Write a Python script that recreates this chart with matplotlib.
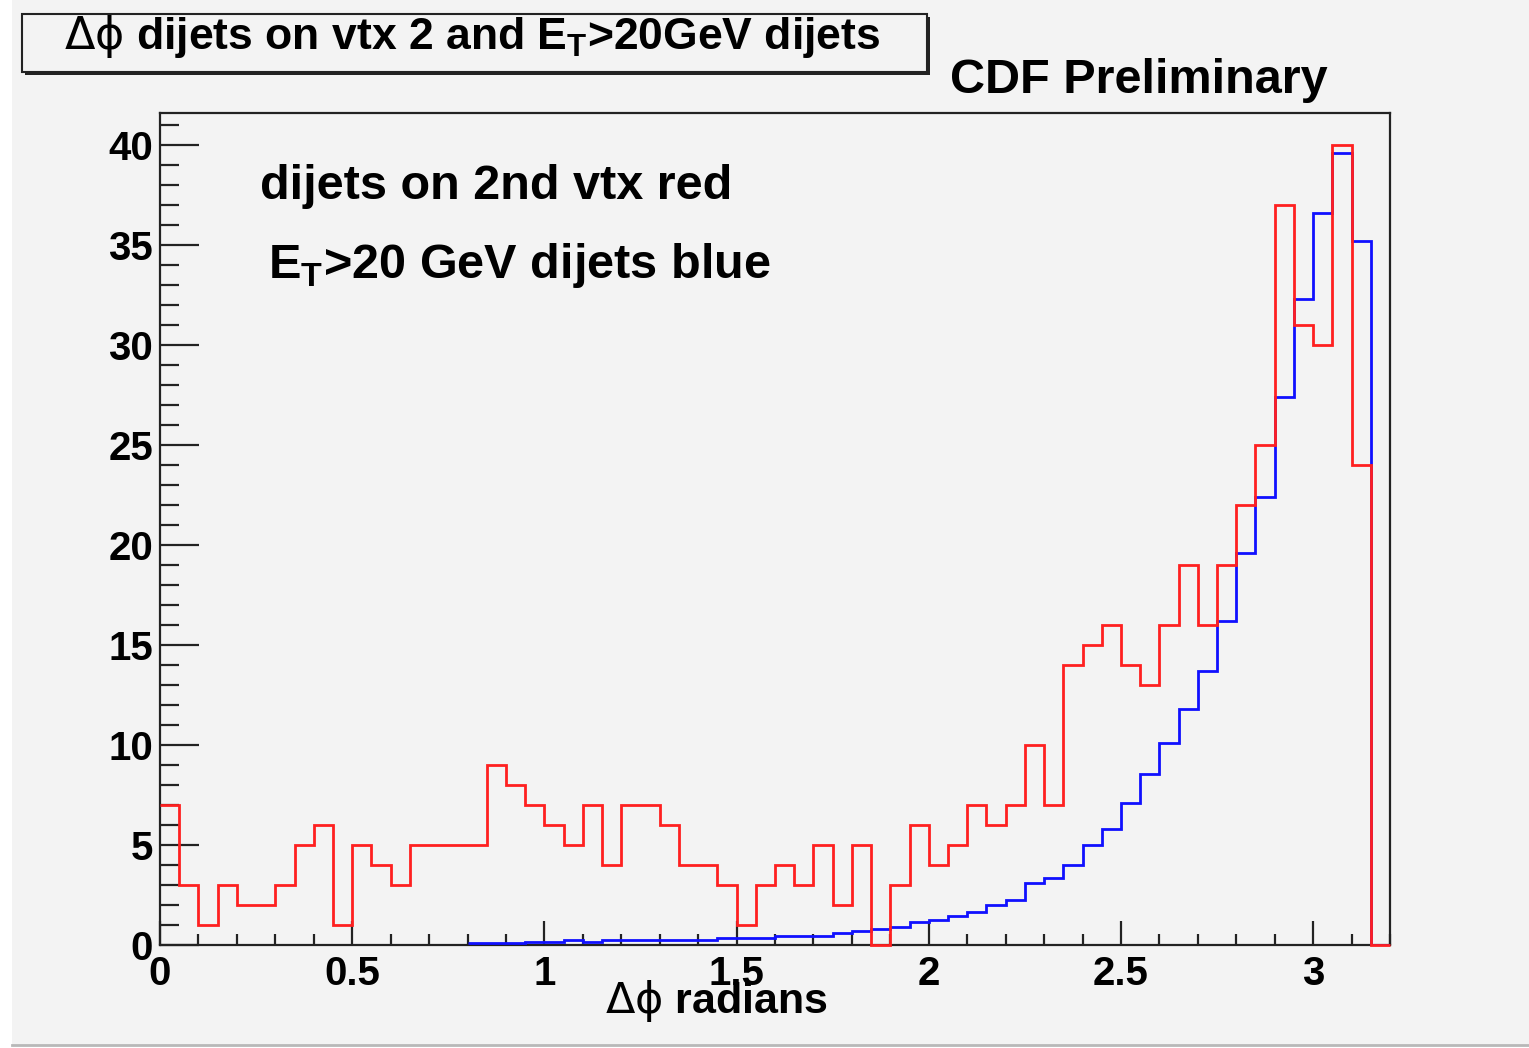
import matplotlib
matplotlib.use("Agg")
import matplotlib.pyplot as plt
from matplotlib.patches import Rectangle
from matplotlib.ticker import MultipleLocator
import numpy as np

# histogram binning: 64 bins of 0.05 rad from 0 to 3.2
bin_lo = 0.0
bin_hi = 3.2
bin_w = 0.05

# dijets on 2nd vertex (counts per bin)
red_counts = [7, 3, 1, 3, 2, 2, 3, 5, 6, 1, 5, 4, 3, 5, 5, 5,
              5, 9, 8, 7, 6, 5, 7, 4, 7, 7, 6, 4, 4, 3, 1, 3,
              4, 3, 5, 2, 5, 0, 3, 6, 4, 5, 7, 6, 7, 10, 7, 14,
              15, 16, 14, 13, 16, 19, 16, 19, 22, 25, 37, 31, 30, 40, 24, 0]

# ET>20 GeV dijets, scaled, starts at bin 16 (0.8 rad)
blue_first_bin = 16
blue_counts = [0.1, 0.1, 0.1, 0.13, 0.13, 0.25, 0.15, 0.25, 0.25, 0.25, 0.25, 0.25, 0.25,
               0.33, 0.33, 0.33, 0.47, 0.47, 0.47, 0.58, 0.7, 0.8, 0.9, 1.17, 1.25,
               1.45, 1.67, 2.0, 2.25, 3.1, 3.33, 4.0, 5.0, 5.78, 7.08, 8.55, 10.1,
               11.8, 13.7, 16.2, 19.6, 22.4, 27.4, 32.3, 36.6, 39.6, 35.2, 0]

plt.rcParams["mathtext.fontset"] = "custom"
plt.rcParams["mathtext.rm"] = "DejaVu Sans:normal"
plt.rcParams["mathtext.it"] = "DejaVu Sans:italic"
plt.rcParams["mathtext.bf"] = "Liberation Sans:bold"
plt.rcParams["font.family"] = ["Liberation Sans", "DejaVu Sans"]
plt.rcParams["font.weight"] = "bold"

W, H = 1529, 1048
bg = "#f3f3f3"
fig = plt.figure(figsize=(W / 100, H / 100), dpi=100, facecolor="white")

# canvas
fig.patches.append(Rectangle((12 / W, 3 / H), 1 - 12 / W, 1 - 3 / H,
                             transform=fig.transFigure, facecolor=bg,
                             edgecolor="none", zorder=-10))
fig.add_artist(plt.Line2D([12 / W, 1], [3 / H, 3 / H], color="#b8b8b8",
                          lw=2, transform=fig.transFigure))

def px(x, y):
    return x / W, 1 - y / H

ax = fig.add_axes([160 / W, 1 - 945 / H, 1230 / W, 832 / H])
ax.set_facecolor(bg)

edges = np.arange(len(red_counts) + 1) * bin_w + bin_lo
ax.stairs(blue_counts, edges[blue_first_bin:], baseline=None,
          color="#1010ff", lw=2.0, zorder=3)
ax.stairs(red_counts, edges, baseline=None, color="#ff2020", lw=2.0,
          zorder=4, clip_on=False)

ax.set_xlim(bin_lo, bin_hi)
ax.set_ylim(0, 41.6)

for s in ax.spines.values():
    s.set_linewidth(1.6)
    s.set_color("#222222")

ax.xaxis.set_major_locator(MultipleLocator(0.5))
ax.xaxis.set_minor_locator(MultipleLocator(0.1))
ax.yaxis.set_major_locator(MultipleLocator(5))
ax.yaxis.set_minor_locator(MultipleLocator(1))
ax.xaxis.set_major_formatter(plt.FuncFormatter(lambda v, p: f"{v:g}"))

ax.tick_params(axis="x", which="major", direction="in", length=17, width=1.6,
               labelsize=29, pad=7, top=False, color="#222222")
ax.tick_params(axis="x", which="minor", direction="in", length=8, width=1.6,
               top=False, color="#222222")
ax.tick_params(axis="y", which="major", direction="in", length=28, width=1.6,
               labelsize=29, pad=5, right=False, color="#222222")
ax.tick_params(axis="y", which="minor", direction="in", length=14, width=1.6,
               right=False, color="#222222")
for lab in ax.get_xticklabels() + ax.get_yticklabels():
    lab.set_fontweight("bold")

# title pave with shadow
fig.patches.append(Rectangle(px(25, 75), 905 / W, 58 / H, transform=fig.transFigure,
                             facecolor="#222222", edgecolor="none", zorder=1))
fig.patches.append(Rectangle(px(22, 72), 905 / W, 58 / H, transform=fig.transFigure,
                             facecolor=bg, edgecolor="#222222", lw=1.5, zorder=2))
fig.text(*px(472, 49), r"$\mathrm{\Delta\phi}$ dijets on vtx 2 and E$_\mathbf{T}$>20GeV dijets",
         ha="center", va="baseline", fontsize=32, fontweight="bold", zorder=3)

fig.text(*px(950, 93), "CDF Preliminary", ha="left", va="baseline",
         fontsize=35, fontweight="bold")

fig.text(*px(260, 199), "dijets on 2nd vtx red", ha="left", va="baseline",
         fontsize=35, fontweight="bold")
fig.text(*px(268, 278), r"E$_\mathbf{T}$>20 GeV dijets blue", ha="left",
         va="baseline", fontsize=35, fontweight="bold")

fig.text(*px(716, 1013), r"$\mathrm{\Delta\phi}$ radians", ha="center",
         va="baseline", fontsize=31, fontweight="bold")

fig.savefig("out.png", dpi=100, facecolor=fig.get_facecolor())
